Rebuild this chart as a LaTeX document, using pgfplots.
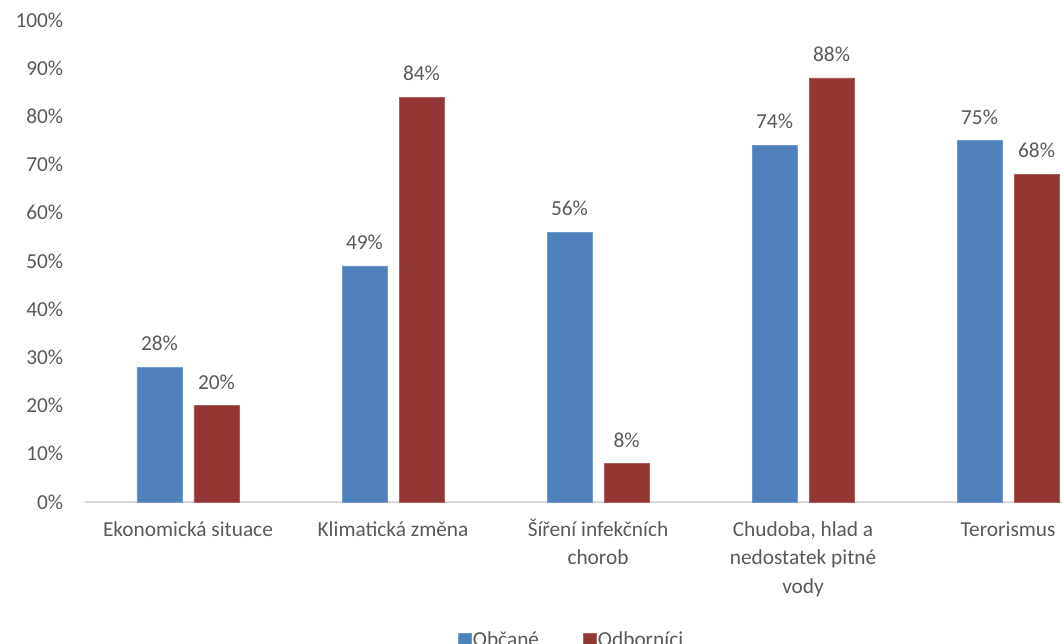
\documentclass[border=0pt]{standalone}
\usepackage{pgfplots}
\pgfplotsset{compat=1.18}
\usepackage{fontspec}
\setmainfont{Carlito}
\definecolor{obcane}{HTML}{4F81BD}
\definecolor{odbornici}{HTML}{943634}
\definecolor{txtgray}{HTML}{595959}
\definecolor{basegray}{HTML}{D9D9D9}

\begin{document}
\begin{tikzpicture}[x=1pt,y=1pt]
\begin{axis}[
  at={(0,0)}, anchor=south west,
  scale only axis,
  width=732.4pt, height=361.5pt,
  xmin=-0.5, xmax=4.263,
  ymin=0, ymax=100,
  ybar=9pt, bar width=33.75pt,
  axis x line*=bottom, axis y line*=left,
  x axis line style={draw=basegray, line width=0.8pt, -},
  y axis line style={draw=none},
  major tick length=0pt,
  xtick={0,1,2,3,4},
  xticklabels={Ekonomická situace, Klimatická změna, {Šíření infekčních\\chorob}, {Chudoba, hlad a\\nedostatek pitné\\vody}, Terorismus},
  ytick={0,10,...,100},
  yticklabel={\pgfmathprintnumber{\tick}\%},
  typeset ticklabels with strut,
  tick label style={font=\fontsize{16}{21.4}\selectfont, text=txtgray},
  xticklabel style={anchor=north, align=center, inner sep=0pt, yshift=-10.5pt},
  yticklabel style={anchor=east, inner sep=0pt, xshift=-16.5pt},
  /pgf/number format/assume math mode=true,
  nodes near coords={\pgfmathprintnumber{\pgfplotspointmeta}\%},
  every node near coord/.append style={font=\fontsize{16}{19}\selectfont, text=txtgray, inner sep=0pt, yshift=12pt},
  legend image code/.code={\draw[#1] (0pt,-4.9pt) rectangle (9.75pt,4.9pt);},
  legend columns=2,
  legend style={at={(0.4975,-0.2656)}, anchor=north, draw=none, inner sep=0pt,
    font=\fontsize{16}{19}\selectfont, text=txtgray,
    nodes={inner sep=1pt},
    /tikz/every even column/.append style={column sep=32pt}},
]
\addplot[fill=obcane, draw=obcane!80!white] coordinates {(0,28) (1,49) (2,56) (3,74) (4,75)};
\addplot[fill=odbornici, draw=odbornici!80!white] coordinates {(0,20) (1,84) (2,8) (3,88) (4,68)};
\legend{Občané, Odborníci}
\end{axis}
\pgfresetboundingbox
\useasboundingbox (-64.1pt,-105.75pt) rectangle (732.4pt,376.5pt);
\end{tikzpicture}
\end{document}
